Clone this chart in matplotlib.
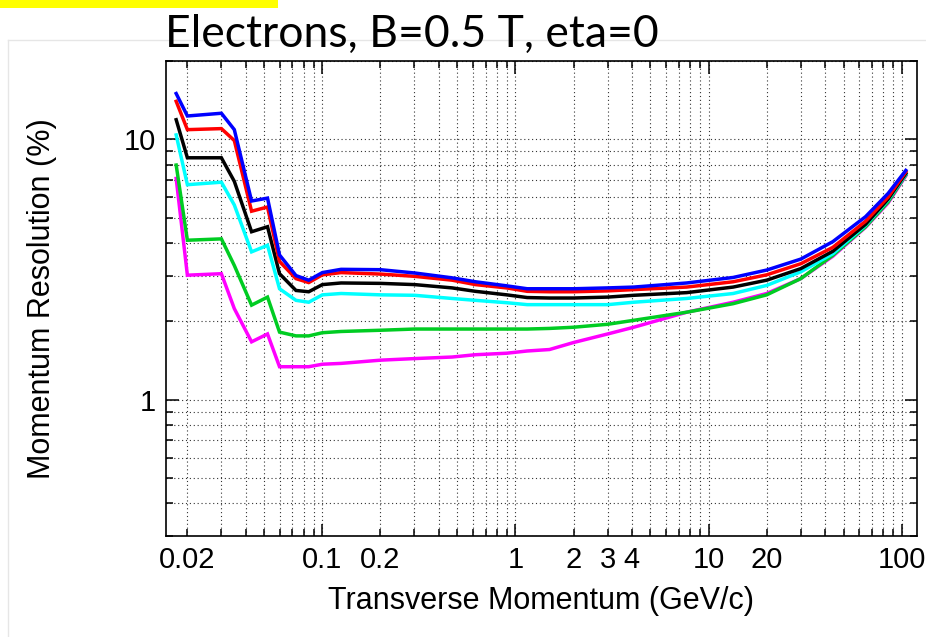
import matplotlib
matplotlib.use("Agg")
import matplotlib.pyplot as plt
import matplotlib.ticker as mticker
from matplotlib.lines import Line2D
from matplotlib.patches import Rectangle
import numpy as np

# transverse momentum points (GeV/c)
pt = [0.0175, 0.02, 0.03, 0.035, 0.043, 0.052, 0.06, 0.073, 0.085, 0.1, 0.125,
      0.2, 0.3, 0.47, 0.62, 0.9, 1.15, 1.5, 2.0, 3.0, 4.1, 7.7, 13.4, 20, 30,
      44, 65, 85, 105]

# momentum resolution (%) for each configuration
res_blue = [15.0, 12.3, 12.6, 10.9, 5.8, 5.95, 3.6, 3.0, 2.88, 3.08, 3.17,
            3.16, 3.07, 2.94, 2.84, 2.74, 2.67, 2.67, 2.67, 2.69, 2.71, 2.81,
            2.95, 3.15, 3.47, 4.05, 5.05, 6.2, 7.6]
res_red = [14.0, 10.9, 11.0, 9.9, 5.3, 5.5, 3.4, 2.92, 2.82, 3.02, 3.08,
           3.04, 2.98, 2.88, 2.77, 2.69, 2.61, 2.60, 2.60, 2.62, 2.65, 2.71,
           2.84, 3.02, 3.33, 3.85, 4.85, 6.0, 7.5]
res_black = [11.9, 8.5, 8.5, 6.9, 4.42, 4.62, 3.05, 2.63, 2.60, 2.77, 2.81,
             2.80, 2.77, 2.69, 2.61, 2.53, 2.47, 2.46, 2.46, 2.48, 2.52, 2.58,
             2.71, 2.88, 3.19, 3.72, 4.72, 5.9, 7.4]
res_cyan = [10.4, 6.7, 6.85, 5.6, 3.7, 3.92, 2.67, 2.41, 2.37, 2.53, 2.56,
            2.53, 2.52, 2.45, 2.41, 2.36, 2.32, 2.32, 2.32, 2.32, 2.37, 2.45,
            2.56, 2.75, 3.10, 3.64, 4.68, 5.85, 7.35]
res_green = [7.97, 4.10, 4.15, 3.28, 2.31, 2.48, 1.82, 1.76, 1.76, 1.81, 1.83,
             1.85, 1.87, 1.87, 1.87, 1.87, 1.87, 1.88, 1.90, 1.95, 2.02, 2.17,
             2.34, 2.53, 2.92, 3.59, 4.62, 5.75, 7.3]
res_magenta = [7.08, 3.01, 3.05, 2.24, 1.67, 1.79, 1.34, 1.34, 1.34, 1.37, 1.38,
               1.42, 1.44, 1.46, 1.49, 1.51, 1.54, 1.56, 1.66, 1.79, 1.90, 2.17,
               2.37, 2.56, 2.92, 3.56, 4.6, 5.7, 7.25]

x_labeled = [0.02, 0.1, 0.2, 1, 2, 3, 4, 10, 20, 100]

W, H = 926, 637
fig = plt.figure(figsize=(W / 100, H / 100), dpi=100)
plt.rcParams['font.family'] = ['Liberation Sans', 'DejaVu Sans']

# pasted-slide decorations: yellow banner and faint picture border
fig.patches.append(Rectangle((0, 1 - 8 / H), 278 / W, 8 / H, transform=fig.transFigure,
                             facecolor='#ffff00', edgecolor='none'))
fig.lines.append(Line2D([8 / W, 1], [1 - 40 / H, 1 - 40 / H], transform=fig.transFigure,
                        color='#e6e6e6', lw=1))
fig.lines.append(Line2D([8 / W, 8 / W], [0, 1 - 40 / H], transform=fig.transFigure,
                        color='#e6e6e6', lw=1))

ax = fig.add_axes([166 / W, 1 - 536 / H, (917 - 166) / W, (536 - 61) / H])

series = [(res_magenta, '#ff00ff'), (res_green, '#00cc22'), (res_cyan, '#00ffff'),
          (res_black, '#000000'), (res_red, '#ff0000'), (res_blue, '#0000ff')]
for vals, col in series:
    ax.plot(pt, vals, color=col, lw=2.5, solid_joinstyle='miter')

ax.set_xscale('log')
ax.set_yscale('log')
ax.set_xlim(0.0155, 120)
ax.set_ylim(0.3, 20)

# x ticks: decades plus labelled minor ticks
ax.xaxis.set_major_locator(mticker.FixedLocator([0.1, 1, 10, 100]))
ax.xaxis.set_major_formatter(mticker.FuncFormatter(lambda v, p: '%g' % v))
ax.xaxis.set_minor_locator(mticker.LogLocator(base=10, subs=np.arange(2, 10), numticks=30))
ax.xaxis.set_minor_formatter(mticker.FuncFormatter(
    lambda v, p: '%g' % v if any(abs(v / l - 1) < 1e-6 for l in x_labeled) else ''))

ax.yaxis.set_major_locator(mticker.FixedLocator([1, 10]))
ax.yaxis.set_major_formatter(mticker.FuncFormatter(lambda v, p: '%g' % v))
ax.yaxis.set_minor_locator(mticker.LogLocator(base=10, subs=np.arange(2, 10), numticks=30))
ax.yaxis.set_minor_formatter(mticker.NullFormatter())

ax.tick_params(which='both', direction='in', top=True, right=True, width=1.1,
               labelsize=21, pad=7)
ax.tick_params(which='major', length=9)
ax.tick_params(which='minor', length=5)

ax.grid(True, which='both', color='#333333', linestyle=(0, (1, 2.5)), lw=0.8)
ax.set_axisbelow(True)
for s in ax.spines.values():
    s.set_linewidth(1.2)

ax.set_xlabel('Transverse Momentum (GeV/c)', fontsize=22)
ax.set_ylabel('Momentum Resolution (%)', fontsize=22)
ax.xaxis.set_label_coords(0.5, -0.105)
ax.yaxis.set_label_coords(-0.145, 0.5)

fig.text(165 / W, 1 - 47 / H, 'Electrons, B=0.5 T, eta=0', fontsize=32,
         family=['Lato', 'DejaVu Sans'], ha='left', va='baseline')

fig.savefig('out.png', dpi=100)
